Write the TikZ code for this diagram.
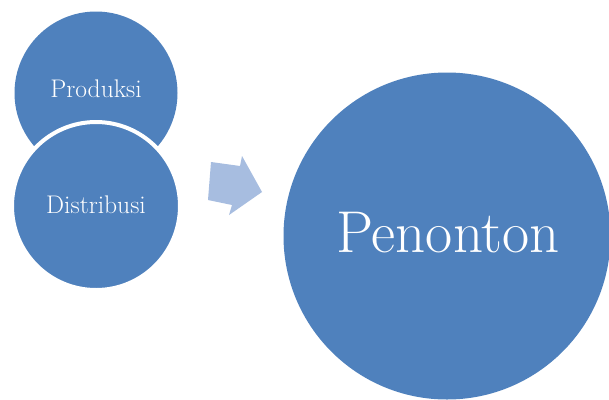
\documentclass[tikz,border=0pt]{standalone}
\usepackage{fontspec}
\setmainfont{Latin Modern Roman}
\definecolor{circblue}{HTML}{4F81BD}
\definecolor{arrowblue}{HTML}{A7BDE0}
\tikzset{
  bubble/.style={circle, fill=circblue, draw=white, line width=4pt, inner sep=0pt},
  smalllabel/.style={text=white, font=\fontsize{25.5}{29}\selectfont, anchor=base, inner sep=0pt},
  biglabel/.style={text=white, font=\fontsize{59}{65}\selectfont, anchor=base, inner sep=0pt},
  flowarrow/.style={fill=arrowblue, draw=none}
}
\begin{document}
\begin{tikzpicture}[x=1pt,y=-1pt]
\useasboundingbox (0,0) rectangle (609,399);
\clip (0,0) rectangle (609,399);
\fill[white] (0,0) rectangle (609,399);
\node[bubble, draw=none, minimum size=163pt] (prod) at (96,93) {};
\node[bubble, minimum size=168pt] (dist) at (96,206) {};
\node[smalllabel] (prodt) at (96,97) {Produksi};
\node[smalllabel] (distt) at (96,213) {Distribusi};
\fill[flowarrow] (211,162) -- (240,166) -- (242,156) -- (262,192) -- (229,215) -- (232,205) -- (208,200) -- cycle;
\node[bubble, draw=none, minimum size=327pt] (pen) at (447,236) {};
\node[biglabel] (pent) at (448,252) {Penonton};
\end{tikzpicture}
\end{document}
